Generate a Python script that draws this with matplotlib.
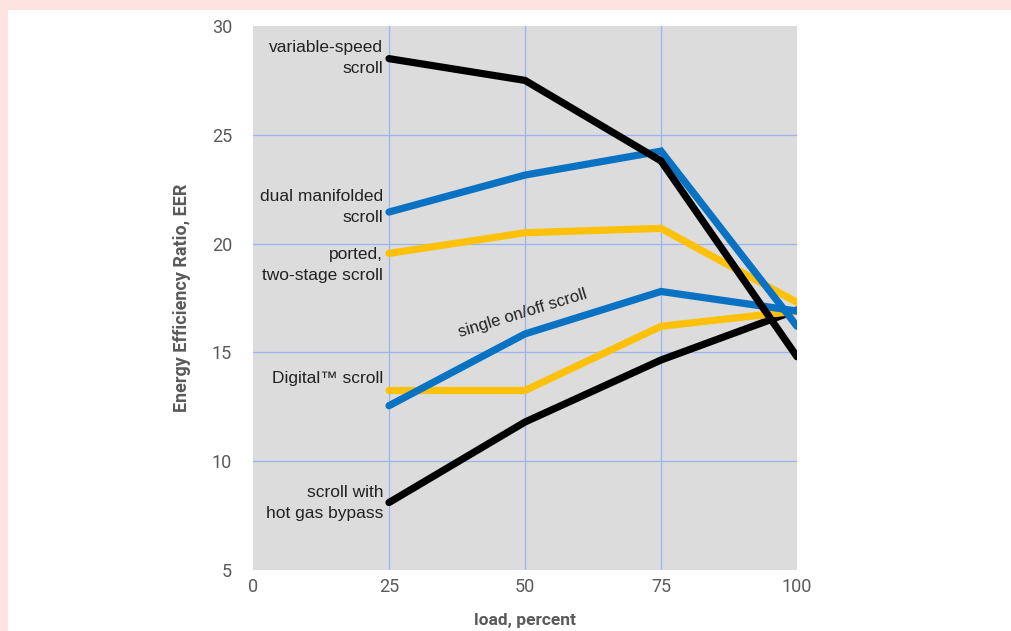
import matplotlib
matplotlib.use("Agg")
import matplotlib.pyplot as plt
from matplotlib.patches import Rectangle

# Data
load = [25, 50, 75, 100]
variable_speed = [28.5, 27.5, 23.8, 14.8]
dual_manifolded = [21.45, 23.15, 24.25, 16.2]
ported_two_stage = [19.55, 20.5, 20.7, 17.3]
single_on_off = [12.55, 15.85, 17.8, 16.9]
digital = [13.25, 13.25, 16.2, 16.9]
hot_gas_bypass = [8.1, 11.8, 14.65, 16.95]

x_ticks = [0, 25, 50, 75, 100]
y_ticks = [5, 10, 15, 20, 25, 30]

BLACK = "#000000"
BLUE = "#0a72c2"
YELLOW = "#fdc10a"
GRAY_TXT = "#5a5a5a"

fig = plt.figure(figsize=(10.12, 6.31), dpi=100)
fig.patch.set_facecolor("#fde4e1")
fig.patches.append(Rectangle((8 / 1012, 0), 1, 1 - 10 / 631, transform=fig.transFigure,
                             facecolor="white", edgecolor="none", zorder=-5))

ax = fig.add_axes([253 / 1012, 1 - 570 / 631, 544 / 1012, 544 / 631])
ax.set_zorder(2)
ax.set_facecolor("#dcdcdc")
for s in ax.spines.values():
    s.set_visible(False)

ax.set_xlim(0, 100)
ax.set_ylim(5, 30)
ax.set_xticks(x_ticks)
ax.set_yticks(y_ticks)
ax.tick_params(length=0, colors=GRAY_TXT, labelsize=13)
ax.tick_params(axis="y", pad=15)
ax.tick_params(axis="x", pad=6)
narrow = ["Roboto", "DejaVu Sans"]
for lab in ax.get_xticklabels() + ax.get_yticklabels():
    lab.set_family(narrow)

for v in x_ticks[1:-1]:
    ax.axvline(v, color="#9ab4f0", lw=0.9, zorder=1)
for v in y_ticks[1:-1]:
    ax.axhline(v, color="#9ab4f0", lw=0.9, zorder=1)

kw = dict(lw=5.2, solid_capstyle="round", solid_joinstyle="miter", zorder=3)
ax.plot(load, hot_gas_bypass, color=BLACK, **kw)
ax.plot(load, digital, color=YELLOW, **kw)
ax.plot(load, single_on_off, color=BLUE, **kw)
ax.plot(load, ported_two_stage, color=YELLOW, **kw)
ax.plot(load, dual_manifolded, color=BLUE, **kw)
ax.plot(load, variable_speed, color=BLACK, **kw)

lab_kw = dict(ha="right", va="center", fontsize=12.5, color="#222222",
              family=["Liberation Sans", "DejaVu Sans"], linespacing=1.5)
ax.text(23.9, 28.55, "variable-speed\nscroll", **lab_kw)
ax.text(23.9, 21.66, "dual manifolded\nscroll", **lab_kw)
ax.text(23.9, 19.0, "ported,\ntwo-stage scroll", **lab_kw)
ax.text(23.9, 13.82, "Digital\u2122 scroll", **lab_kw)
ax.text(23.9, 8.1, "scroll with\nhot gas bypass", **lab_kw)
ax.text(49.5, 16.8, "single on/off scroll", ha="center", va="center", fontsize=12,
        color="#222222", rotation=17, family=["Liberation Sans", "DejaVu Sans"])

ax.set_xlabel("load, percent", fontsize=12.5, fontweight="bold", color=GRAY_TXT,
              family=narrow, labelpad=12)
ax.set_ylabel("Energy Efficiency Ratio, EER", fontsize=13, fontweight="bold",
              color=GRAY_TXT, family=narrow, labelpad=15)

fig.savefig("out.png", dpi=100, facecolor=fig.get_facecolor())
